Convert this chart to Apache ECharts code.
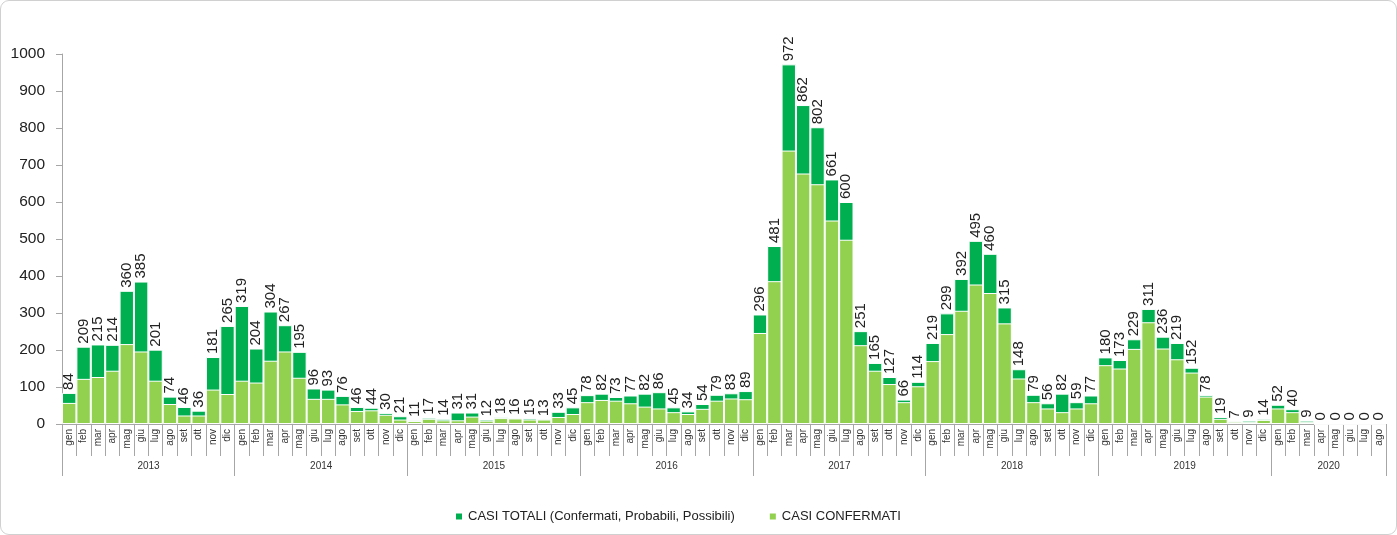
<!DOCTYPE html>
<html>
<head>
<meta charset="utf-8">
<script src="https://cdn.jsdelivr.net/npm/echarts@6/dist/echarts.min.js"></script>
<style>
    html, body { margin: 0; padding: 0; background: #fff; }
    #wrap { position: relative; width: 1397px; height: 535px; }
    #chart { width: 1397px; height: 535px; }
    #frame { position: absolute; left: 0; top: 0; right: 0; bottom: 0; border: 1px solid #d0d0d0; border-radius: 9px; pointer-events: none; }
</style>
</head>
<body>
<div id="wrap">
    <div id="chart"></div>
    <div id="frame"></div>
</div>
<script>
// year labels and month names of the category axis
var years = ['2013', '2014', '2015', '2016', '2017', '2018', '2019', '2020']
var months = ['gen', 'feb', 'mar', 'apr', 'mag', 'giu', 'lug', 'ago', 'set', 'ott', 'nov', 'dic']

// CASI TOTALI (Confermati, Probabili, Possibili)
var totalCases = [
    84, 209, 215, 214, 360, 385, 201, 74, 46, 36, 181, 265,
    319, 204, 304, 267, 195, 96, 93, 76, 46, 44, 30, 21,
    11, 17, 14, 31, 31, 12, 18, 16, 15, 13, 33, 45,
    78, 82, 73, 77, 82, 86, 45, 34, 54, 79, 83, 89,
    296, 481, 972, 862, 802, 661, 600, 251, 165, 127, 66, 114,
    219, 299, 392, 495, 460, 315, 148, 79, 56, 82, 59, 77,
    180, 173, 229, 311, 236, 219, 152, 78, 19, 7, 9, 14,
    52, 40, 9, 0, 0, 0, 0, 0
]

// CASI CONFERMATI
var confirmedCases = [
    57, 122, 127, 144, 216, 196, 117, 54, 23, 23, 93, 81,
    117, 112, 171, 196, 125, 68, 68, 53, 35, 37, 25, 12,
    8, 14, 10, 10, 20, 9, 16, 15, 12, 12, 19, 27,
    59, 65, 63, 56, 47, 42, 32, 27, 41, 63, 69, 67,
    246, 386, 739, 677, 648, 550, 498, 213, 144, 108, 59, 102,
    170, 243, 306, 377, 354, 272, 123, 59, 42, 32, 42, 56,
    159, 150, 203, 275, 204, 175, 139, 74, 14, 6, 5, 11,
    42, 32, 5, 0, 0, 0, 0, 0
]

var monthLabels = []
var yearOfMonth = []
var yearMiddle = {}
totalCases.forEach(function (v, i) {
    monthLabels.push(months[i % 12])
    yearOfMonth.push(years[Math.floor(i / 12)])
})
years.forEach(function (y, k) {
    var start = k * 12
    var count = Math.min(12, totalCases.length - start)
    yearMiddle[start + count / 2] = true
})

var FONT = 'Liberation Sans'
var chart = echarts.init(document.getElementById('chart'))
chart.setOption({
    animation: false,
    textStyle: { fontFamily: FONT },
    grid: { left: 62, right: 11, top: 54, bottom: 111 },
    legend: {
        bottom: 7,
        left: 449,
        itemWidth: 8,
        itemHeight: 8,
        itemGap: 33,
        icon: 'rect',
        textStyle: { fontFamily: FONT, fontSize: 13, color: '#222' },
        data: ['CASI TOTALI (Confermati, Probabili, Possibili)', 'CASI CONFERMATI']
    },
    xAxis: [{
        type: 'category',
        position: 'bottom',
        data: monthLabels,
        axisLine: { show: true, lineStyle: { color: '#a6a6a6' } },
        axisTick: { show: true, interval: 0, length: 32, lineStyle: { color: '#a6a6a6' } },
        axisLabel: { interval: 0, rotate: 90, fontSize: 10, color: '#333', margin: 5 }
    }, {
        type: 'category',
        position: 'bottom',
        data: yearOfMonth,
        axisLine: { show: false },
        axisTick: {
            show: true,
            interval: function (index) { return index % 12 === 0 },
            length: 52,
            lineStyle: { color: '#a6a6a6' }
        },
        axisLabel: {
            interval: function (index) { return yearMiddle[index] === true },
            fontSize: 10,
            color: '#333',
            margin: 37,
            formatter: function (v) { return '{y|' + v + '}' },
            rich: { y: { fontSize: 10, color: '#333', padding: [0, 14, 0, 0] } }
        }
    }],
    yAxis: {
        type: 'value',
        min: 0,
        max: 1000,
        interval: 100,
        axisLine: { show: true, lineStyle: { color: '#a6a6a6' } },
        axisTick: { show: true, length: 6, lineStyle: { color: '#a6a6a6' } },
        axisLabel: { fontSize: 15.5, color: '#222', margin: 17, formatter: function (v) { return String(v) } },
        splitLine: { show: false }
    },
    series: [{
        name: 'CASI TOTALI (Confermati, Probabili, Possibili)',
        type: 'bar',
        data: totalCases,
        barCategoryGap: '0%',
        itemStyle: { color: '#00b050', borderColor: '#fff', borderWidth: 1 },
        label: {
            show: true,
            position: 'top',
            rotate: 90,
            align: 'left',
            verticalAlign: 'middle',
            distance: 3,
            fontSize: 15,
            color: '#222'
        }
    }, {
        name: 'CASI CONFERMATI',
        type: 'bar',
        data: confirmedCases,
        barGap: '-100%',
        barCategoryGap: '0%',
        itemStyle: { color: '#92d050', borderColor: '#fff', borderWidth: 1 }
    }]
})
</script>
</body>
</html>
